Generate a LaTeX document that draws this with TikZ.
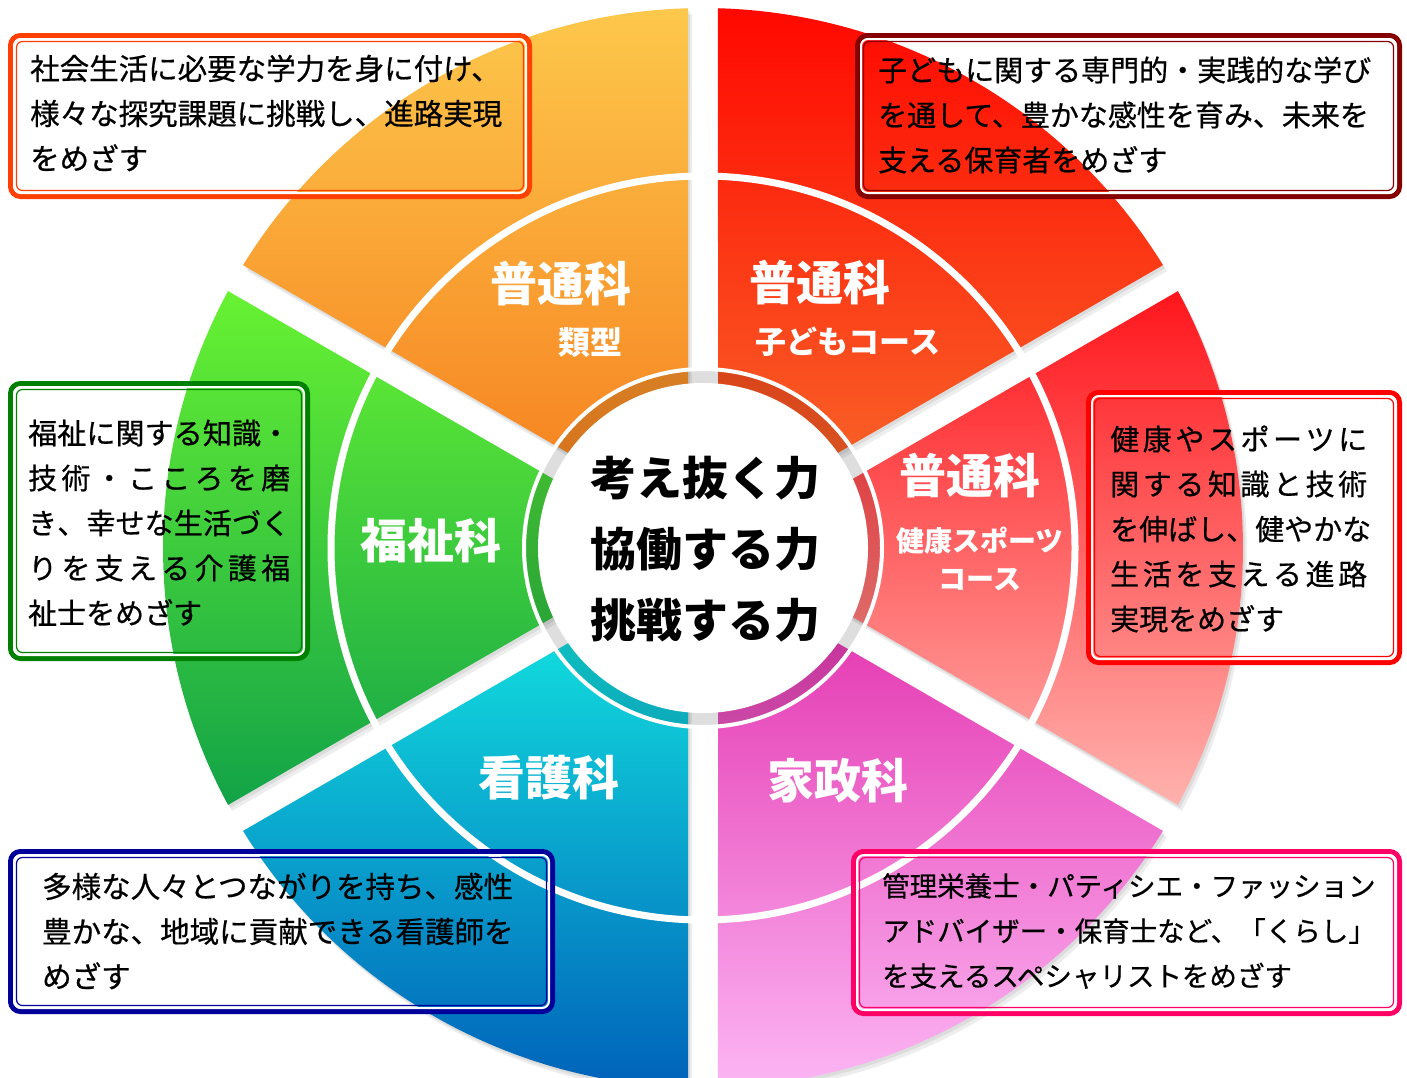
\documentclass[tikz,border=0pt]{standalone}
\usepackage{fontspec}
\newfontfamily\jp{Noto Sans CJK JP}
\newfontfamily\jpm{Noto Sans CJK JP}[FakeBold=0.6]
\definecolor{orT}{HTML}{FDC84C}\definecolor{orB}{HTML}{F67C1C}
\definecolor{rdT}{HTML}{FF0800}\definecolor{rdB}{HTML}{F86C2C}
\definecolor{pkT}{HTML}{FF161C}\definecolor{pkB}{HTML}{FFB2AE}
\definecolor{mgT}{HTML}{E22BAA}\definecolor{mgB}{HTML}{FCB6F4}
\definecolor{blT}{HTML}{14EDE2}\definecolor{blB}{HTML}{0062BA}
\definecolor{grT}{HTML}{68F232}\definecolor{grB}{HTML}{12A348}
\definecolor{bxOr}{HTML}{FF4000}\definecolor{bxDr}{HTML}{850000}
\definecolor{bxGr}{HTML}{008000}\definecolor{bxRd}{HTML}{FF0000}
\definecolor{bxNv}{HTML}{00009A}\definecolor{bxPk}{HTML}{FF0066}
\tikzset{
  frame/.style={draw=#1, line width=5pt, rounded corners=10pt, inner sep=0pt, outer sep=0pt},
  lab/.style={text=white, font=\jp\bfseries\fontsize{47}{47}\selectfont, inner sep=0pt},
  sublab/.style={text=white, font=\jp\bfseries\fontsize{#1}{38}\selectfont, inner sep=0pt, align=center},
  txt/.style={font=\jpm\fontsize{#1}{45}\selectfont, align=left, inner sep=0pt, anchor=west, text=black},
  ctr/.style={font=\jp\bfseries\fontsize{46}{71}\selectfont, align=center, inner sep=0pt, text=black},
}
\newcommand\sect[3]{\path[top color=#2, bottom color=#3] ({#1+30}:30) -- ({#1+1.59}:540) arc[start angle={#1+1.59}, end angle={#1+58.41}, radius=540] -- cycle;}
\newcommand\sectshadow[1]{%
  \fill[black, opacity=0.07, shift={(2,3)}] ({#1+30}:30) -- ({#1+1.59}:540) arc[start angle={#1+1.59}, end angle={#1+58.41}, radius=540] -- cycle;
  \fill[black, opacity=0.07, shift={(4,6)}] ({#1+30}:30) -- ({#1+1.59}:540) arc[start angle={#1+1.59}, end angle={#1+58.41}, radius=540] -- cycle;}
\newcommand\boxlines[2]{% node name, colour
  \draw[draw=white, line width=2pt, rounded corners=7pt] ([shift={(3.5,3.5)}]#1.north west) rectangle ([shift={(-3.5,-3.5)}]#1.south east);
  \draw[draw=#2, line width=1.2pt, rounded corners=6pt] ([shift={(6,6)}]#1.north west) rectangle ([shift={(-6,-6)}]#1.south east);}
\def\jsA#1{#1\jsB}
\def\jsB#1{\ifx\relax#1\else\hfill#1\expandafter\jsB\fi}
\newcommand\jline[2]{\hbox to #1{\jsA#2\relax}}
\begin{document}
\begin{tikzpicture}[x=1pt,y=-1pt]
\useasboundingbox (0,0) rectangle (1407,1077);
\fill[white] (0,0) rectangle (1407,1077);
\begin{scope}[shift={(703,548)}]
  \sectshadow{210}\sectshadow{270}\sectshadow{330}\sectshadow{30}\sectshadow{90}\sectshadow{150}
  \sect{210}{orT}{orB}
  \sect{270}{rdT}{rdB}
  \sect{330}{pkT}{pkB}
  \sect{30}{mgT}{mgB}
  \sect{90}{blT}{blB}
  \sect{150}{grT}{grB}
  \draw[white, line width=7pt] (0,0) circle[radius=372];
  \fill[black, opacity=0.13] (0,0) circle[radius=177];
  \draw[white, line width=4pt] (0,0) circle[radius=179];
  \fill[white] (0,0) circle[radius=165];
\end{scope}
% sector labels
\node[lab] (l1) at (561,284) {普通科};
\node[sublab=32] (l1s) at (590,343) {類型};
\node[lab] (l2) at (820,283) {普通科};
\node[sublab=31] (l2s) at (848,342) {子どもコース};
\node[lab] (l3) at (970,476) {普通科};
\node[sublab=28] (l3s) at (980,559) {健康スポーツ\\コース};
\node[lab] (l4) at (431,541) {福祉科};
\node[lab] (l5) at (549,778) {看護科};
\node[lab] (l6) at (838,781) {家政科};
\node[ctr] (core) at (705,549) {考え抜く力\\協働する力\\挑戦する力};
% boxes
\node[frame=bxOr, minimum width=519pt, minimum height=161pt] (b1) at (270,116) {};
\boxlines{b1}{bxOr}
\node[frame=bxDr, minimum width=542pt, minimum height=161pt] (b2) at (1128.5,116) {};
\boxlines{b2}{bxDr}
\node[frame=bxGr, minimum width=297pt, minimum height=275pt] (b3) at (159,521) {};
\boxlines{b3}{bxGr}
\node[frame=bxRd, minimum width=311pt, minimum height=270pt] (b4) at (1244,527.5) {};
\boxlines{b4}{bxRd}
\node[frame=bxNv, minimum width=542pt, minimum height=160pt] (b5) at (281.5,931.5) {};
\boxlines{b5}{bxNv}
\node[frame=bxPk, minimum width=546pt, minimum height=162pt] (b6) at (1126.5,932.5) {};
\boxlines{b6}{bxPk}
% box texts
\node[txt=29.5] (t1) at (30,113) {社会生活に必要な学力を身に付け、\\様々な探究課題に挑戦し、進路実現\\をめざす};
\node[txt=29] (t2) at (878,115) {子どもに関する専門的・実践的な学び\\を通して、豊かな感性を育み、未来を\\支える保育者をめざす};
\node[txt=29] (t3) at (28,523) {\jline{262pt}{福祉に関する知識・}\\\jline{262pt}{技術・こころを磨}\\\jline{262pt}{き、幸せな生活づく}\\\jline{262pt}{りを支える介護福}\\祉士をめざす};
\node[txt=29] (t4) at (1110,529) {\jline{257pt}{健康やスポーツに}\\\jline{257pt}{関する知識と技術}\\\jline{257pt}{を伸ばし、健やかな}\\\jline{257pt}{生活を支える進路}\\実現をめざす};
\node[txt=29.5] (t5) at (42,931) {多様な人々とつながりを持ち、感性\\豊かな、地域に貢献できる看護師を\\めざす};
\node[txt=27.5] (t6) at (882,931) {管理栄養士・パティシエ・ファッション\\アドバイザー・保育士など、「くらし」\\を支えるスペシャリストをめざす};
\end{tikzpicture}
\end{document}
